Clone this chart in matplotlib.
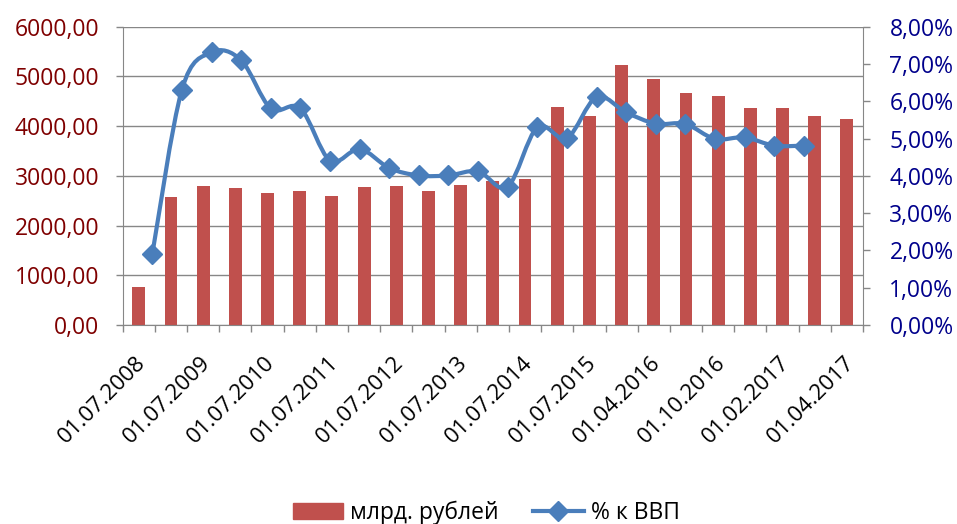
import numpy as np
import matplotlib
matplotlib.use("Agg")
import matplotlib.pyplot as plt
from matplotlib.path import Path
from matplotlib.patches import PathPatch, Patch
from matplotlib.lines import Line2D
from matplotlib.ticker import FuncFormatter, MultipleLocator
import matplotlib.transforms as mtransforms

plt.rcParams["font.family"] = ["Open Sans", "DejaVu Sans"]

# --------------------
# Data
# --------------------
# only every second category carries a label on the axis
tick_labels = [
    "01.07.2008", "01.07.2009", "01.07.2010", "01.07.2011",
    "01.07.2012", "01.07.2013", "01.07.2014", "01.07.2015",
    "01.04.2016", "01.10.2016", "01.02.2017", "01.04.2017",
]

# bars, млрд. рублей
bln_rub = [760, 2570, 2805, 2760, 2660, 2690, 2590, 2785, 2800, 2685,
           2820, 2895, 2940, 4385, 4200, 5230, 4945, 4670, 4615, 4360,
           4360, 4200, 4135]

# line, % к ВВП
pct_gdp = [1.90, 6.31, 7.31, 7.10, 5.81, 5.81, 4.41, 4.72, 4.21, 4.01,
           4.01, 4.12, 3.71, 5.30, 5.01, 6.11, 5.70, 5.40, 5.39, 4.99,
           5.03, 4.81, 4.81]

BAR_COLOR = "#C0504D"
LINE_COLOR = "#4A7EBB"
GRID_COLOR = "#878787"
LEFT_COLOR = "#7F0000"
RIGHT_COLOR = "#00008B"
FS = 16.5
MS = 10


def comma_num(v, _pos=None):
    return f"{v:.2f}".replace(".", ",")


def comma_pct(v, _pos=None):
    return f"{v:.2f}%".replace(".", ",")


def smooth_path(xs, ys):
    # Excel-like smoothed line: cubic Bezier through the points
    xs = np.asarray(xs, float)
    ys = np.asarray(ys, float)
    n = len(xs)
    verts = [(xs[0], ys[0])]
    codes = [Path.MOVETO]
    for i in range(n - 1):
        a = i - 1 if i > 0 else i
        d = i + 2 if i + 2 < n else i + 1
        c1 = (xs[i] + (xs[i + 1] - xs[a]) / 6, ys[i] + (ys[i + 1] - ys[a]) / 6)
        c2 = (xs[i + 1] - (xs[d] - xs[i]) / 6, ys[i + 1] - (ys[d] - ys[i]) / 6)
        verts += [c1, c2, (xs[i + 1], ys[i + 1])]
        codes += [Path.CURVE4] * 3
    return Path(verts, codes)


def main():
    fig = plt.figure(figsize=(9.57, 5.24), dpi=100)
    ax = fig.add_axes([0.1282, 0.3798, 0.7736, 0.5693])

    x = np.arange(len(bln_rub))
    ax.bar(x, bln_rub, width=0.4, color=BAR_COLOR, zorder=2)
    ax.set_xlim(-0.5, len(bln_rub) - 0.5)
    ax.set_ylim(0, 6000)
    ax.yaxis.set_major_locator(MultipleLocator(1000))
    ax.yaxis.set_major_formatter(FuncFormatter(comma_num))
    ax.grid(axis="y", color=GRID_COLOR, lw=1)
    ax.set_axisbelow(True)

    ax.set_xticks(x[::2], tick_labels)
    ax.set_xticks(np.arange(len(x) + 1) - 0.5, minor=True)
    ax.tick_params(axis="x", which="major", length=0, pad=25, labelsize=FS - 0.5)
    ax.tick_params(axis="x", which="minor", length=5, color=GRID_COLOR, width=1)
    ax.tick_params(axis="y", length=5, color=GRID_COLOR, width=1,
                   labelsize=FS, labelcolor=LEFT_COLOR, pad=12)
    shift = mtransforms.ScaledTranslation(4 / 100, 0, fig.dpi_scale_trans)
    for lab in ax.get_xticklabels():
        lab.set_rotation(45)
        lab.set_ha("right")
        lab.set_va("center")
        lab.set_rotation_mode("anchor")
        lab.set_transform(lab.get_transform() + shift)

    for side in ["top", "right"]:
        ax.spines[side].set_visible(False)
    for side in ["left", "bottom"]:
        ax.spines[side].set_color(GRID_COLOR)

    # secondary value axis (%)
    ax2 = ax.twinx()
    ax2.set_ylim(0, 8)
    ax2.yaxis.set_major_locator(MultipleLocator(1))
    ax2.yaxis.set_major_formatter(FuncFormatter(comma_pct))
    ax2.tick_params(axis="y", length=5, color=GRID_COLOR, width=1,
                    labelsize=FS, labelcolor=RIGHT_COLOR, pad=14)
    for side in ["top", "left", "bottom"]:
        ax2.spines[side].set_visible(False)
    ax2.spines["right"].set_color(GRID_COLOR)

    # secondary category axis for the line
    ax3 = ax2.twiny()
    ax3.set_xlim(-1, len(pct_gdp) + 1)
    ax3.xaxis.set_visible(False)
    for side in ax3.spines.values():
        side.set_visible(False)
    xl = np.arange(len(pct_gdp))
    ax3.add_patch(PathPatch(smooth_path(xl, pct_gdp), fill=False,
                            edgecolor=LINE_COLOR, lw=3, capstyle="round",
                            joinstyle="round"))
    ax3.plot(xl, pct_gdp, linestyle="none", marker="D", ms=MS,
             color=LINE_COLOR)

    handles = [
        Patch(color=BAR_COLOR),
        Line2D([], [], color=LINE_COLOR, lw=3, marker="D", ms=MS),
    ]
    fig.legend(handles, ["млрд. рублей", "% к ВВП"], loc="center",
               bbox_to_anchor=(0.508, 0.021), ncol=2, frameon=False,
               fontsize=FS, handlelength=2.2, handletextpad=0.3,
               columnspacing=1.5)

    fig.savefig("out.png", dpi=100)
    plt.close(fig)


if __name__ == "__main__":
    main()
